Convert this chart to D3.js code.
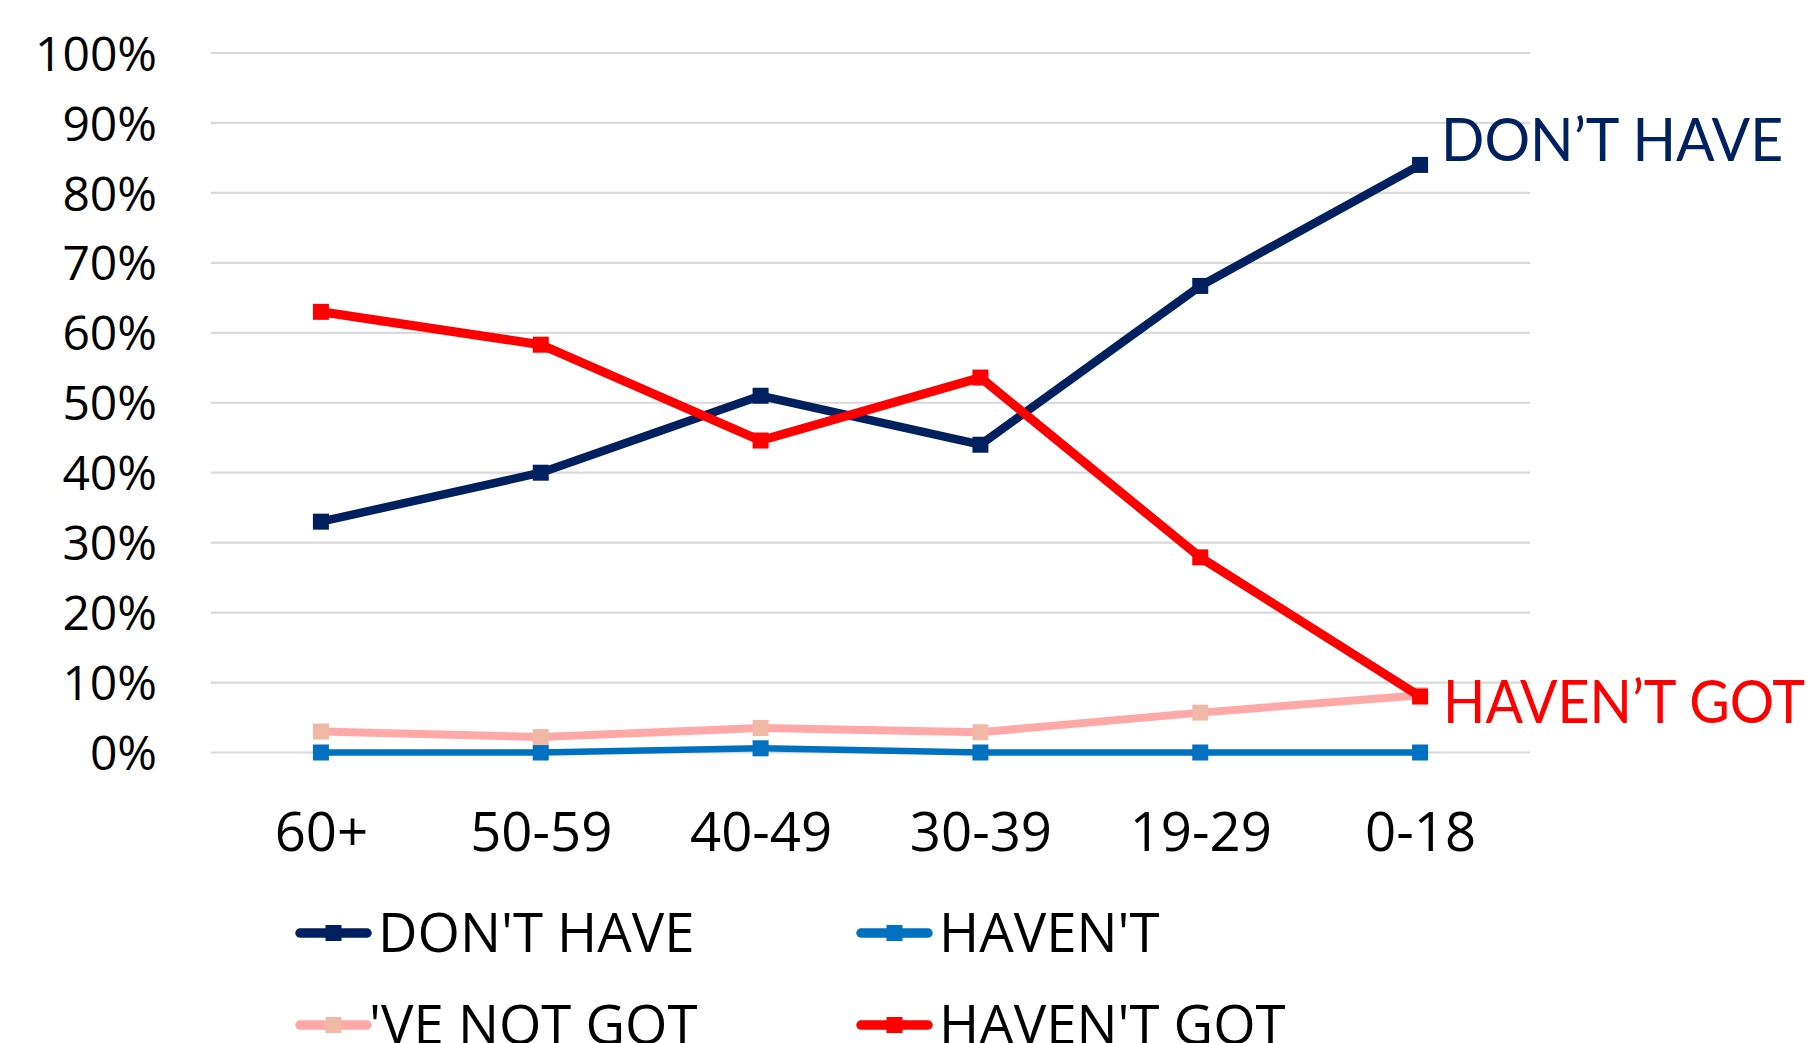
<!DOCTYPE html>
<html>
<head>
<meta charset="utf-8">
<script src="https://cdn.jsdelivr.net/npm/d3@7"></script>
<style>
  html, body { margin: 0; padding: 0; background: #fff; }
  svg { display: block; font-family: "Open Sans", "Noto Sans", sans-serif; }
</style>
</head>
<body>
<svg id="chart" width="1820" height="1043"></svg>
<script>
// Age groups along the x axis
const categories = ["60+", "50-59", "40-49", "30-39", "19-29", "0-18"];

// Share of speakers using each form, per age group
const dontHave   = [0.33, 0.40, 0.51, 0.44, 0.667, 0.84];
const haventOnly = [0.00, 0.00, 0.006, 0.00, 0.00, 0.00];
const veNotGot   = [0.03, 0.022, 0.035, 0.029, 0.057, 0.082];
const haventGot  = [0.63, 0.583, 0.446, 0.536, 0.279, 0.08];

const yTicks = [0, 0.1, 0.2, 0.3, 0.4, 0.5, 0.6, 0.7, 0.8, 0.9, 1.0];

const seriesNames = ["DON'T HAVE", "HAVEN'T", "'VE NOT GOT", "HAVEN'T GOT"];

const series = [
  { name: seriesNames[0], values: dontHave,   line: "#002060", marker: "#002060", width: 8.5 },
  { name: seriesNames[1], values: haventOnly, line: "#0070C0", marker: "#0070C0", width: 6.5 },
  { name: seriesNames[2], values: veNotGot,   line: "#FFA8A8", marker: "#F0B9A6", width: 8 },
  { name: seriesNames[3], values: haventGot,  line: "#FF0000", marker: "#FF0000", width: 9 }
];

const svg = d3.select("#chart");
svg.append("rect").attr("width", 1820).attr("height", 1043).attr("fill", "#fff");

const plot = { left: 211, right: 1530, top: 53, bottom: 752.5 };

const x = d3.scalePoint().domain(categories).range([plot.left, plot.right]).padding(0.5);
const y = d3.scaleLinear().domain([0, 1]).range([plot.bottom, plot.top]);

// Horizontal gridlines
svg.append("g")
  .selectAll("line")
  .data(yTicks)
  .join("line")
  .attr("x1", plot.left).attr("x2", plot.right)
  .attr("y1", d => y(d)).attr("y2", d => y(d))
  .attr("stroke", "#D9D9D9").attr("stroke-width", 2.2);

// Y axis labels
const yAxis = d3.axisLeft(y).tickValues(yTicks).tickFormat(d3.format(".0%")).tickSize(0).tickPadding(0);
const yg = svg.append("g").attr("transform", "translate(157,0)").call(yAxis);
yg.select(".domain").remove();
yg.selectAll("text")
  .attr("font-family", "'Open Sans', sans-serif")
  .attr("font-size", 48).attr("fill", "#000").attr("dy", "0.357em");

// X axis labels
const xAxis = d3.axisBottom(x).tickSize(0).tickPadding(0);
const xg = svg.append("g").attr("transform", "translate(0,850.7)").call(xAxis);
xg.select(".domain").remove();
xg.selectAll("text")
  .attr("font-family", "'Open Sans', sans-serif")
  .attr("font-size", 54.5).attr("fill", "#000").attr("dy", 0).attr("y", 0);

// Series lines and square markers
const line = d3.line().x((d, i) => x(categories[i])).y(d => y(d));
const ms = 16;

series.forEach(s => {
  const g = svg.append("g");
  g.append("path")
    .attr("d", line(s.values))
    .attr("fill", "none")
    .attr("stroke", s.line)
    .attr("stroke-width", s.width)
    .attr("stroke-linejoin", "round");
  g.selectAll("rect")
    .data(s.values)
    .join("rect")
    .attr("x", (d, i) => x(categories[i]) - ms / 2)
    .attr("y", d => y(d) - ms / 2)
    .attr("width", ms).attr("height", ms)
    .attr("fill", s.marker);
});

// End-of-line callouts
const last = categories[categories.length - 1];
svg.append("text")
  .attr("x", x(last) + 21)
  .attr("y", y(dontHave[dontHave.length - 1]) - 4)
  .attr("font-family", "Lato, 'Open Sans', sans-serif")
  .attr("font-size", 60)
  .attr("textLength", 342)
  .attr("lengthAdjust", "spacingAndGlyphs")
  .attr("fill", "#002060")
  .text("DON\u2019T HAVE");

svg.append("text")
  .attr("x", x(last) + 23)
  .attr("y", y(haventGot[haventGot.length - 1]) + 26)
  .attr("font-family", "Lato, 'Open Sans', sans-serif")
  .attr("font-size", 60)
  .attr("textLength", 362)
  .attr("lengthAdjust", "spacingAndGlyphs")
  .attr("fill", "#FF0000")
  .text("HAVEN\u2019T GOT");

// Legend: two columns, two rows
const legendPos = [
  { lx: 296, ty: 952 },
  { lx: 857, ty: 952 },
  { lx: 296, ty: 1044 },
  { lx: 857, ty: 1044 }
];
const legend = svg.append("g");
series.forEach((s, i) => {
  const p = legendPos[i];
  const ly = p.ty - 19;
  const g = legend.append("g");
  g.append("line")
    .attr("x1", p.lx + 4).attr("x2", p.lx + 71)
    .attr("y1", ly).attr("y2", ly)
    .attr("stroke", s.line).attr("stroke-width", 9.5).attr("stroke-linecap", "round");
  g.append("rect")
    .attr("x", p.lx + 37.5 - ms / 2).attr("y", ly - ms / 2)
    .attr("width", ms).attr("height", ms).attr("fill", s.marker);
  g.append("text")
    .attr("x", p.lx + (i === 2 ? 73 : 82))
    .attr("y", p.ty)
    .attr("font-family", "'Open Sans', sans-serif")
    .attr("font-size", 54.5)
    .attr("fill", "#000")
    .text(s.name);
});
</script>
</body>
</html>
